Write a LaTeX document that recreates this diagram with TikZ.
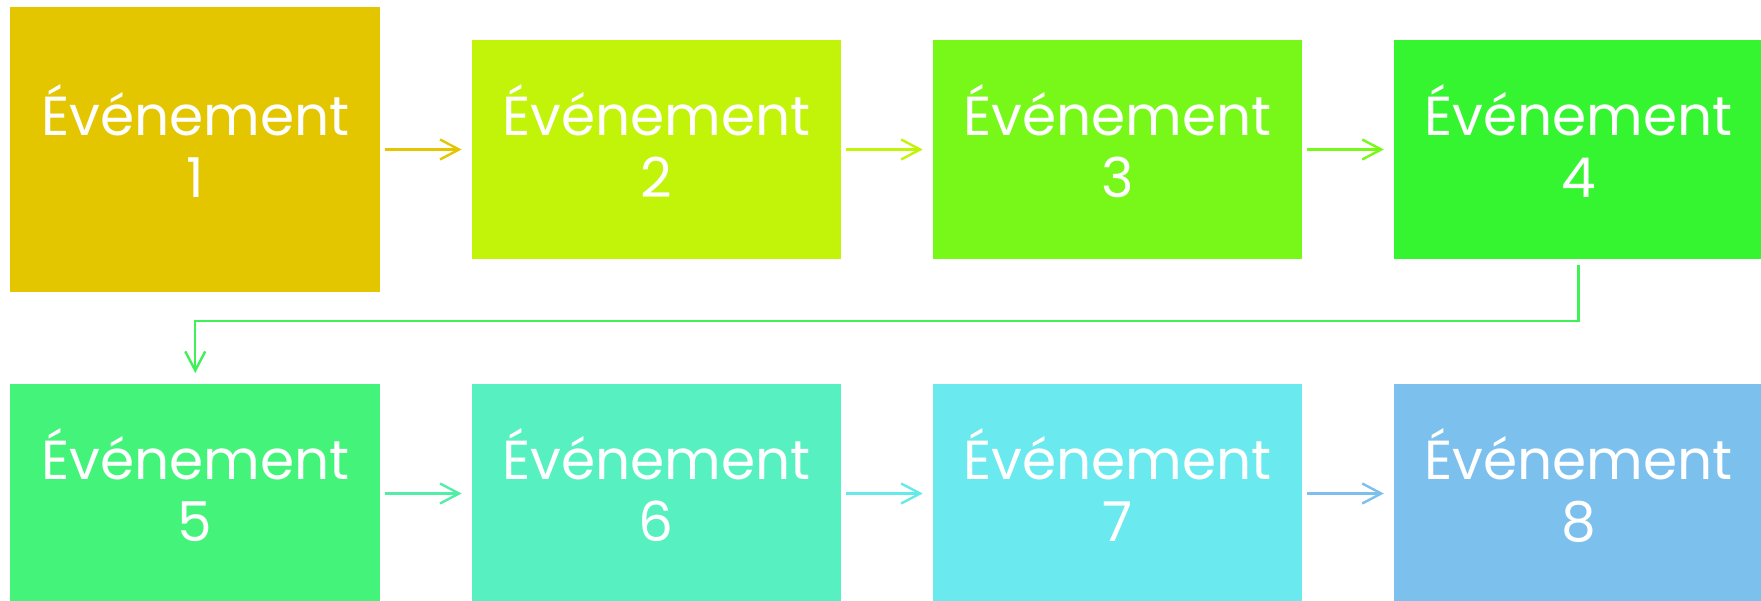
\documentclass[tikz,border=0pt]{standalone}
\usepackage{fontspec}
\setmainfont{Poppins}
\usetikzlibrary{arrows.meta}
\definecolor{cA}{RGB}{227,198,0}
\definecolor{cB}{RGB}{193,244,8}
\definecolor{cC}{RGB}{120,248,24}
\definecolor{cD}{RGB}{53,245,48}
\definecolor{cE}{RGB}{68,243,122}
\definecolor{cF}{RGB}{87,240,192}
\definecolor{cG}{RGB}{106,233,238}
\definecolor{cH}{RGB}{124,192,237}
\definecolor{aDE}{RGB}{64,240,88}
\definecolor{aEF}{RGB}{82,238,168}
\definecolor{aFG}{RGB}{100,234,232}
\tikzset{
  evbox/.style={draw=none, inner sep=0pt, outer sep=0pt},
  evtext/.style={text=white, align=center, inner sep=0pt, font=\fontsize{55bp}{62bp}\selectfont},
  flow/.style={line width=2.4bp, -{Straight Barb[length=19bp,width=20bp,line width=2.4bp]}, shorten <=5bp, shorten >=10bp},
}
\begin{document}
\begin{tikzpicture}[x=1bp,y=-1bp]
\useasboundingbox (0,0) rectangle (1761,601);
% row 1
\node[evbox, fill=cA, minimum width=369.5bp, minimum height=285bp] (b1) at (195.25,149.5) {};
\node[evbox, fill=cB, minimum width=369.5bp, minimum height=219bp] (b2) at (656.35,149.5) {};
\node[evbox, fill=cC, minimum width=369.5bp, minimum height=219bp] (b3) at (1117.45,149.5) {};
\node[evbox, fill=cD, minimum width=369.5bp, minimum height=219bp] (b4) at (1578.55,149.5) {};
% row 2
\node[evbox, fill=cE, minimum width=369.5bp, minimum height=219bp] (b5) at (195.25,493.5) {};
\node[evbox, fill=cF, minimum width=369.5bp, minimum height=219bp] (b6) at (656.35,493.5) {};
\node[evbox, fill=cG, minimum width=369.5bp, minimum height=219bp] (b7) at (1117.45,493.5) {};
\node[evbox, fill=cH, minimum width=369.5bp, minimum height=219bp] (b8) at (1578.55,493.5) {};
% labels
\foreach \i in {1,...,8} {
  \node[evtext, yshift=8bp] (t\i) at (b\i.center) {Événement\\\i};
}
% connectors
\draw[flow, cA] (b1.east) -- (b2.west);
\draw[flow, cB] (b2.east) -- (b3.west);
\draw[flow, cC] (b3.east) -- (b4.west);
\coordinate (k1) at (1578.55,321);
\coordinate (k2) at (195.25,321);
\draw[flow, aDE, shorten <=6bp, shorten >=11bp] (b4.south) -- (k1) -- (k2) -- (b5.north);
\draw[flow, aEF] (b5.east) -- (b6.west);
\draw[flow, aFG] (b6.east) -- (b7.west);
\draw[flow, cH] (b7.east) -- (b8.west);
\end{tikzpicture}
\end{document}
